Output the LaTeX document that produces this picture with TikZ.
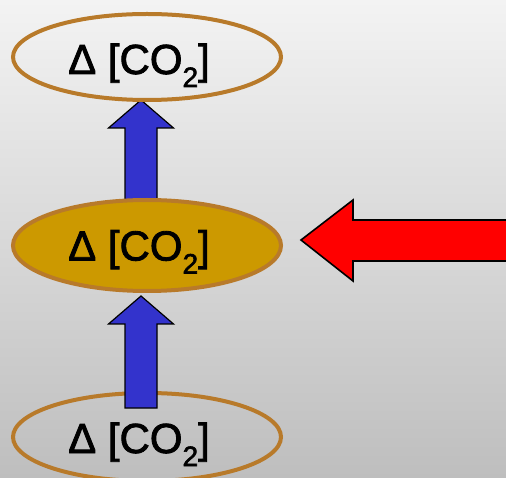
\documentclass[tikz,border=0pt]{standalone}
\usepackage{fontspec}
\setmainfont{Liberation Sans}
\newfontfamily\lblfont[FakeBold=2]{Liberation Sans}
\usetikzlibrary{shapes.geometric,calc}
\definecolor{gbrown}{RGB}{184,122,42}
\definecolor{gold}{RGB}{204,153,0}
\definecolor{ablue}{RGB}{51,51,204}
\definecolor{bgtop}{RGB}{243,243,243}
\definecolor{bgbot}{RGB}{190,190,190}
\pgfdeclarelayer{bgl}
\pgfdeclarelayer{back}
\pgfsetlayers{bgl,back,main}
\newcommand{\cotwo}{Δ [CO\raisebox{-13pt}{\fontsize{28}{30}\selectfont 2}]}
\tikzset{
 oval/.style={ellipse, draw=gbrown, line width=4pt, inner sep=0pt, minimum width=268pt},
 lbl/.style={anchor=base, inner sep=0pt, font=\lblfont\fontsize{42}{50}\selectfont},
 barrow/.style={fill=ablue, draw=black, line width=1.2pt, line join=miter},
 rarrow/.style={fill=red, draw=black, line width=1.6pt, line join=miter},
}
\begin{document}
\begin{tikzpicture}[x=1pt,y=-1pt]
\useasboundingbox (0,0) rectangle (506,478);
\begin{pgfonlayer}{bgl}
\shade[top color=bgtop,bottom color=bgbot] (0,0) rectangle (506,478);
\end{pgfonlayer}
\clip (0,0) rectangle (506,478);
\node[oval, minimum height=86pt] (top) at (147,57) {};
\node[oval, minimum height=91pt, fill=gold] (mid) at (147,245.5) {};
\node[oval, minimum height=88pt] (bot) at (147,437) {};
\node[lbl] (ttop) at ($(top.center)+(-8,17)$) {\cotwo};
\node[lbl] (tmid) at ($(mid.center)+(-8,15)$) {\cotwo};
\node[lbl] (tbot) at ($(bot.center)+(-8,16)$) {\cotwo};
% upper arrow, under the ellipses
\begin{pgfonlayer}{back}
\coordinate (ut) at ($(top.south)+(-6,-2)$);
\draw[barrow] (ut) -- ++(32.5,28) -- ++(-16.5,0) -- ++(0,87) -- ++(-32,0)
  -- ++(0,-87) -- ++(-16.5,0) -- cycle;
\end{pgfonlayer}
% lower arrow, over the bottom ellipse
\coordinate (lt) at ($(mid.south)+(-6,3)$);
\draw[barrow] (lt) -- ++(32.5,28) -- ++(-16.5,0) -- ++(0,84) -- ++(-32,0)
  -- ++(0,-84) -- ++(-16.5,0) -- cycle;
% red arrow
\coordinate (rt) at ($(mid.east)+(18,-5.5)$);
\draw[rarrow] (rt) -- ++(52,-40) -- ++(0,20) -- ++(160,0) -- ++(0,41)
  -- ++(-160,0) -- ++(0,20) -- cycle;
\end{tikzpicture}
\end{document}
